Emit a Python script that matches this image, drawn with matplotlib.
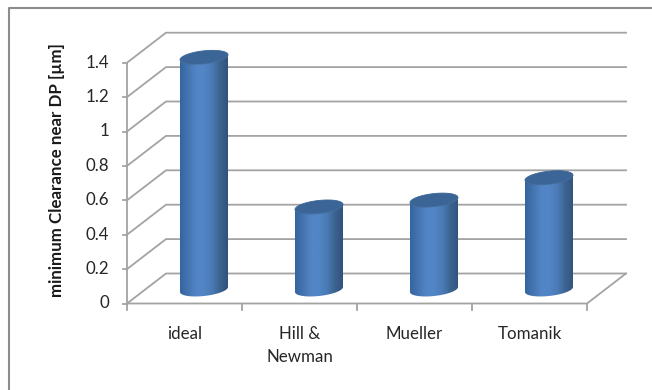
import matplotlib
matplotlib.use('Agg')
import matplotlib.pyplot as plt
from matplotlib.colors import LinearSegmentedColormap
from matplotlib.patches import Polygon
import numpy as np

categories = ['ideal', 'Hill &\nNewman', 'Mueller', 'Tomanik']
clearance = [1.35, 0.48, 0.52, 0.65]
y_ticks = [0, 0.2, 0.4, 0.6, 0.8, 1.0, 1.2, 1.4]
y_labels = ['0', '0.2', '0.4', '0.6', '0.8', '1', '1.2', '1.4']

W, H = 652, 390
# one category is 115 px wide, one value unit is 172 px tall
px_x = 1 / 115
px_y = 1 / 172
x0_px, y0_px = 127, 303.5

plt.rcParams['font.family'] = ['Lato', 'DejaVu Sans']
GRID = '#a3a3a3'
TEXT = '#262626'

fig = plt.figure(figsize=(W / 100, H / 100), dpi=100, facecolor='white')
ax = fig.add_axes([0, 0, 1, 1])
ax.axis('off')

# depth of the 3d floor
dx = 39 * px_x
dy = 30 * px_y
n_cat = len(categories)

# outer chart frame, only top and left are visible
ax.plot([(9 - x0_px) * px_x, (9 - x0_px) * px_x, (W - x0_px) * px_x],
        [(y0_px - H) * px_y, (y0_px - 7.5) * px_y, (y0_px - 7.5) * px_y],
        color='#8c8c8c', lw=1.5, solid_capstyle='butt')

# gridlines running over the side wall and the back wall
for v, lab in zip(y_ticks, y_labels):
    ax.plot([0, dx, n_cat + dx], [v, v + dy, v + dy], color=GRID, lw=1.3, zorder=1)
    ax.plot([-4 * px_x, 0], [v, v], color=GRID, lw=1.3, zorder=1)
    ax.text(-18 * px_x, v, lab, ha='right', va='center', fontsize=12.2, color=TEXT)

# front edges of the floor
ax.plot([0, 0], [0, y_ticks[-1]], color=GRID, lw=1.3, zorder=1)
ax.plot([0, n_cat, n_cat + dx], [0, 0, dy], color=GRID, lw=1.3, zorder=1)
for i in range(n_cat + 1):
    ax.plot([i, i], [0, -6 * px_y], color=GRID, lw=1.3, zorder=1)

# cylinders
side_cmap = LinearSegmentedColormap.from_list(
    'side', ['#34659f', '#4575b0', '#5285c6', '#5285c6', '#4a7bb6', '#3c638f', '#30527c'])
half_w = 24 * px_x
half_h = 6.5 * px_y
tilt = 2.5 * px_y
ramp = np.linspace(0, 1, 256).reshape(1, -1)


def rim(cx, cy, a):
    return cx + half_w * np.cos(a), cy + half_h * np.sin(a) + tilt * np.cos(a)


for i, val in enumerate(clearance):
    cx = i + 0.5 + dx / 2
    base = 14 * px_y
    top = base + val

    low = np.linspace(np.pi, 2 * np.pi, 61)
    xb, yb = rim(cx, base, low)
    xt, yt = rim(cx, top, low[::-1])
    body = np.column_stack([np.r_[xb, xt], np.r_[yb, yt]])
    img = ax.imshow(ramp, cmap=side_cmap, aspect='auto', interpolation='bilinear',
                    extent=(cx - half_w, cx + half_w, base - 0.1, top + 0.1), zorder=3)
    img.set_clip_path(Polygon(body, closed=True, transform=ax.transData))

    xe, ye = rim(cx, top, np.linspace(0, 2 * np.pi, 121))
    ax.fill(xe, ye, color='#3b6596', lw=0.6, zorder=4)

    # category labels, second line sits 23 px lower
    for k, line in enumerate(categories[i].split('\n')):
        ax.text(i + 0.5, (y0_px - 334 - 23 * k) * px_y, line, ha='center', va='center',
                fontsize=12.2, color=TEXT)

ax.text((57 - x0_px) * px_x, (y0_px - 170) * px_y, 'minimum Clearance near DP [µm]',
        rotation=90, ha='center', va='center', fontsize=12.2, fontweight='bold', color='#1a1a1a')

ax.set_xlim(-x0_px * px_x, (W - x0_px) * px_x)
ax.set_ylim((y0_px - H) * px_y, y0_px * px_y)

fig.savefig('out.png', dpi=100)
